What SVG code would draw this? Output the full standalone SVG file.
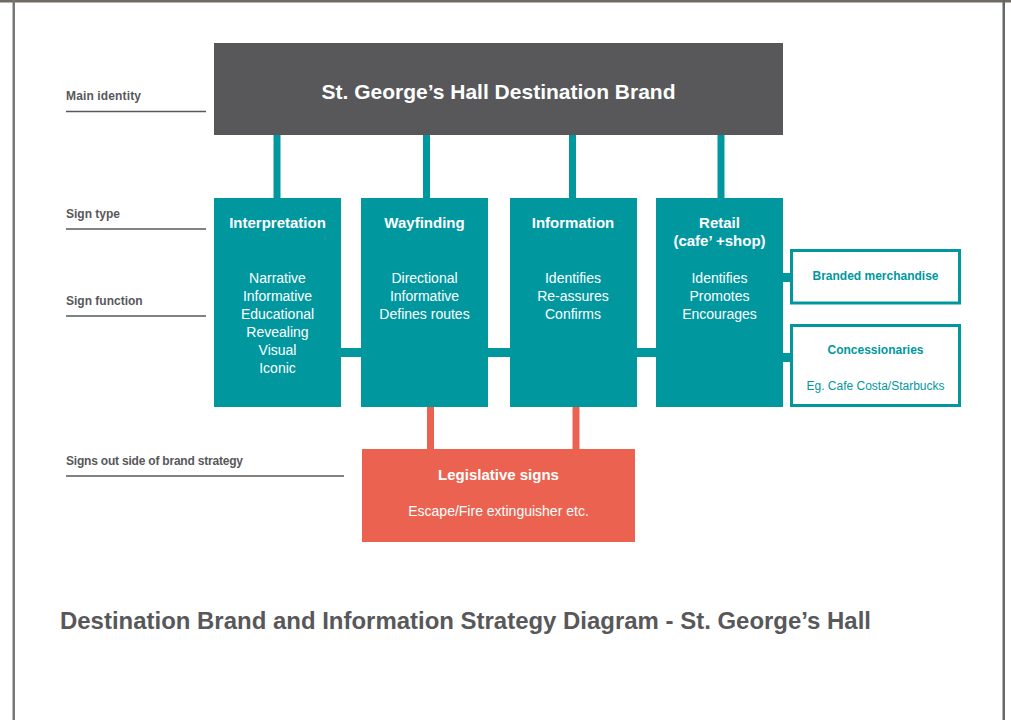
<svg xmlns="http://www.w3.org/2000/svg" width="1011" height="720" viewBox="0 0 1011 720">
<style>
.lbl{font-family:"Liberation Sans",Arial,sans-serif;font-weight:bold;font-size:12px;fill:#58585a}
.rule{stroke:#58585a;stroke-width:1.5}
.teal{fill:#00979f}
.orange{fill:#eb6350}
.hd{font-family:"Liberation Sans",Arial,sans-serif;font-weight:bold;font-size:15px;fill:#ffffff;text-anchor:middle}
.bd{font-family:"Liberation Sans",Arial,sans-serif;font-size:14px;fill:#ffffff;text-anchor:middle}
.sub{fill:#ffffff;stroke:#00979f;stroke-width:3}
.sh{font-family:"Liberation Sans",Arial,sans-serif;font-weight:bold;font-size:12px;fill:#00979f;text-anchor:middle}
.sb{font-family:"Liberation Sans",Arial,sans-serif;font-size:12px;fill:#00979f;text-anchor:middle}
</style>
<rect x="0" y="0" width="1011" height="720" fill="#ffffff"/>
<rect x="0" y="0" width="1011" height="2.5" fill="#6e6a60"/>
<rect x="12.5" y="0" width="2.5" height="720" fill="#777777"/>
<rect x="1002.5" y="0" width="2.5" height="720" fill="#666666"/>

<g id="labels">
<text class="lbl" x="66" y="100" textLength="75">Main identity</text>
<line class="rule" x1="66" y1="111.5" x2="206" y2="111.5"/>
<text class="lbl" x="66" y="218">Sign type</text>
<line class="rule" x1="66" y1="229" x2="206" y2="229"/>
<text class="lbl" x="66" y="305">Sign function</text>
<line class="rule" x1="66" y1="316" x2="206" y2="316"/>
<text class="lbl" x="66" y="465" textLength="177">Signs out side of brand strategy</text>
<line class="rule" x1="66" y1="476" x2="344" y2="476"/>
</g>

<g id="connectors">
<rect class="teal" x="273.5" y="134" width="7" height="65"/>
<rect class="teal" x="423" y="134" width="7" height="65"/>
<rect class="teal" x="569" y="134" width="7" height="65"/>
<rect class="teal" x="717.5" y="134" width="7" height="65"/>
<rect class="teal" x="340" y="348" width="22" height="9"/>
<rect class="teal" x="487" y="348" width="24" height="9"/>
<rect class="teal" x="636" y="348" width="21" height="9"/>
<rect class="teal" x="782" y="273" width="10" height="9"/>
<rect class="teal" x="782" y="353" width="10" height="9"/>
<rect class="orange" x="427" y="406" width="7" height="44"/>
<rect class="orange" x="572.5" y="406" width="7" height="44"/>
</g>

<g id="main-identity">
<rect x="214" y="43" width="569" height="92" fill="#58585a"/>
<text x="498.5" y="99" font-family="Liberation Sans, Arial, sans-serif" font-weight="bold" font-size="21" fill="#ffffff" text-anchor="middle">St. George’s Hall Destination Brand</text>
</g>

<g id="interpretation">
<rect class="teal" x="214" y="198" width="127" height="209"/>
<text class="hd" x="277.5" y="228">Interpretation</text>
<text class="bd" x="277.5" y="283">Narrative</text>
<text class="bd" x="277.5" y="301">Informative</text>
<text class="bd" x="277.5" y="319">Educational</text>
<text class="bd" x="277.5" y="337">Revealing</text>
<text class="bd" x="277.5" y="355">Visual</text>
<text class="bd" x="277.5" y="373">Iconic</text>
</g>

<g id="wayfinding">
<rect class="teal" x="361" y="198" width="127" height="209"/>
<text class="hd" x="424.5" y="228">Wayfinding</text>
<text class="bd" x="424.5" y="283">Directional</text>
<text class="bd" x="424.5" y="301">Informative</text>
<text class="bd" x="424.5" y="319">Defines routes</text>
</g>

<g id="information">
<rect class="teal" x="510" y="198" width="127" height="209"/>
<text class="hd" x="573" y="228">Information</text>
<text class="bd" x="573" y="283">Identifies</text>
<text class="bd" x="573" y="301">Re-assures</text>
<text class="bd" x="573" y="319">Confirms</text>
</g>

<g id="retail">
<rect class="teal" x="656" y="198" width="127" height="209"/>
<text class="hd" x="719.5" y="228">Retail</text>
<text class="hd" x="719.5" y="246">(cafe’ +shop)</text>
<text class="bd" x="719.5" y="283">Identifies</text>
<text class="bd" x="719.5" y="301">Promotes</text>
<text class="bd" x="719.5" y="319">Encourages</text>
</g>

<g id="branded-merchandise">
<rect class="sub" x="791.5" y="250.5" width="168" height="52.5"/>
<text class="sh" x="875.5" y="280">Branded merchandise</text>
</g>

<g id="concessionaries">
<rect class="sub" x="791.5" y="325.5" width="168" height="80"/>
<text class="sh" x="875.5" y="354">Concessionaries</text>
<text class="sb" x="875.5" y="390">Eg. Cafe Costa/Starbucks</text>
</g>

<g id="legislative-signs">
<rect class="orange" x="362" y="449" width="273" height="93"/>
<text class="hd" x="498.5" y="480" font-size="14">Legislative signs</text>
<text class="bd" x="498.5" y="516">Escape/Fire extinguisher etc.</text>
</g>

<text x="60" y="629" font-family="Liberation Sans, Arial, sans-serif" font-weight="bold" font-size="23" fill="#58585a" textLength="811" lengthAdjust="spacingAndGlyphs">Destination Brand and Information Strategy Diagram - St. George’s Hall</text>
</svg>
